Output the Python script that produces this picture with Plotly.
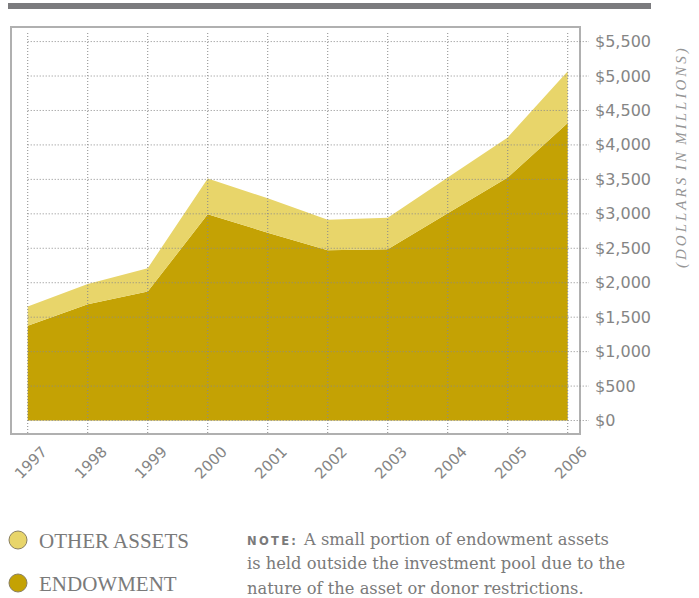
import plotly.graph_objects as go

years = [1997, 1998, 1999, 2000, 2001, 2002, 2003, 2004, 2005, 2006]
endowment = [1374, 1688, 1871, 2993, 2726, 2470, 2486, 3007, 3529, 4320]
other_assets = [280, 295, 339, 521, 499, 445, 458, 522, 580, 750]
y_ticks = [0, 500, 1000, 1500, 2000, 2500, 3000, 3500, 4000, 4500, 5000, 5500]
y_tick_labels = ["$0", "$500", "$1,000", "$1,500", "$2,000", "$2,500", "$3,000",
                 "$3,500", "$4,000", "$4,500", "$5,000", "$5,500"]

C_END = "#C4A204"
C_OTH = "#E8D56A"
GRID = "#8a8a8a"
TXT = "#858585"
DOT = "1px,2px"

W, H = 699, 598
L, R, T, B = 12, 120, 28, 165
x_range = [1996.738, 2006.188]
y_range = [-181, 5697]

fig = go.Figure()
fig.add_trace(go.Scatter(x=years, y=endowment, stackgroup="s", mode="none",
                         fillcolor=C_END, name="ENDOWMENT", hoverinfo="skip"))
fig.add_trace(go.Scatter(x=years, y=other_assets, stackgroup="s", mode="none",
                         fillcolor=C_OTH, name="OTHER ASSETS", hoverinfo="skip"))

# tick triangles below the box
ppu = (H - T - B) / (y_range[1] - y_range[0])
tri_y = y_range[0] - 7 / ppu
fig.add_trace(go.Scatter(x=years, y=[tri_y] * len(years), mode="markers",
                         marker=dict(symbol="triangle-down", size=11, color="#7a7a7a"),
                         cliponaxis=False, hoverinfo="skip", showlegend=False))


def px_to_paper_x(px):
    return (px - L) / (W - L - R)


def px_to_paper_y(py):
    return (H - B - py) / (H - T - B)


shapes = []
# top bar
shapes.append(dict(type="rect", xref="paper", yref="paper",
                   x0=px_to_paper_x(8), x1=px_to_paper_x(651),
                   y0=px_to_paper_y(3), y1=px_to_paper_y(9),
                   fillcolor="#7b7b7e", line_width=0, layer="above"))
# horizontal dotted gridlines (from first year to beyond the box)
for v in y_ticks:
    shapes.append(dict(type="line", xref="paper", yref="y",
                       x0=px_to_paper_x(27.7), x1=px_to_paper_x(589),
                       y0=v, y1=v, line=dict(color=GRID, width=1, dash=DOT), layer="above"))
# vertical dotted gridlines
for yr in years:
    shapes.append(dict(type="line", xref="x", yref="y", x0=yr, x1=yr,
                       y0=y_range[0], y1=5640,
                       line=dict(color=GRID, width=1, dash=DOT), layer="above"))

# legend circles
for cy, col in [(540, C_OTH), (583, C_END)]:
    shapes.append(dict(type="circle", xref="paper", yref="paper",
                       x0=px_to_paper_x(9), x1=px_to_paper_x(27),
                       y0=px_to_paper_y(cy + 9), y1=px_to_paper_y(cy - 9),
                       fillcolor=col, line=dict(color="#8a8060", width=1)))

annotations = []
for yr in years:
    annotations.append(dict(x=yr, xref="x", y=0, yref="paper", text=str(yr),
                            textangle=-45, showarrow=False, xanchor="center", yanchor="middle",
                            xshift=3, yshift=-30,
                            font=dict(family="DejaVu Sans", size=15, color=TXT)))
for v, lab in zip(y_ticks, y_tick_labels):
    annotations.append(dict(x=px_to_paper_x(593), xref="paper", y=v, yref="y", text=lab,
                            showarrow=False, xanchor="left", yanchor="middle",
                            font=dict(family="DejaVu Sans", size=16, color=TXT)))

axis_title = "\u2009".join("(DOLLARS IN MILLIONS)").replace("\u2009 \u2009", "\u2002")
annotations.append(dict(x=px_to_paper_x(681), xref="paper", y=px_to_paper_y(158), yref="paper",
                        text="<i>" + axis_title + "</i>",
                        textangle=-90, showarrow=False, xanchor="center", yanchor="middle",
                        font=dict(family="Liberation Serif", size=15, color="#959595")))

annotations.append(dict(x=px_to_paper_x(37), xref="paper", y=px_to_paper_y(541), yref="paper",
                        text="OTHER ASSETS", showarrow=False, xanchor="left", yanchor="middle",
                        font=dict(family="Liberation Serif", size=21, color="#7a7a7a")))
annotations.append(dict(x=px_to_paper_x(37), xref="paper", y=px_to_paper_y(584), yref="paper",
                        text="ENDOWMENT", showarrow=False, xanchor="left", yanchor="middle",
                        font=dict(family="Liberation Serif", size=21, color="#7a7a7a")))

note_label = "\u2009".join("NOTE:")
note_lines = [
    "<span style='font-family:DejaVu Sans;font-size:11.5px'><b>" + note_label + "</b></span>\u2002A small portion of endowment assets",
    "is held outside the investment pool due to the",
    "nature of the asset or donor restrictions.",
]
for i, line in enumerate(note_lines):
    annotations.append(dict(x=px_to_paper_x(245), xref="paper", y=px_to_paper_y(539 + 24.5 * i), yref="paper",
                            text=line, showarrow=False, xanchor="left", yanchor="middle",
                            font=dict(family="DejaVu Serif", size=16.3, color="#7a7a7a")))

fig.update_layout(
    width=W, height=H, margin=dict(l=L, r=R, t=T, b=B),
    paper_bgcolor="white", plot_bgcolor="white",
    showlegend=False,
    shapes=shapes, annotations=annotations,
    xaxis=dict(range=x_range, showgrid=False, zeroline=False, showticklabels=False,
               showline=True, mirror=True, linecolor="#b0b0b0", linewidth=1.5, ticks=""),
    yaxis=dict(range=y_range, showgrid=False, zeroline=False, showticklabels=False,
               showline=True, mirror=True, linecolor="#b0b0b0", linewidth=1.5, ticks=""),
)

fig.write_html("out.html", config={"displayModeBar": False},
               post_script="document.body.style.margin='0';document.body.style.overflow='hidden';")
